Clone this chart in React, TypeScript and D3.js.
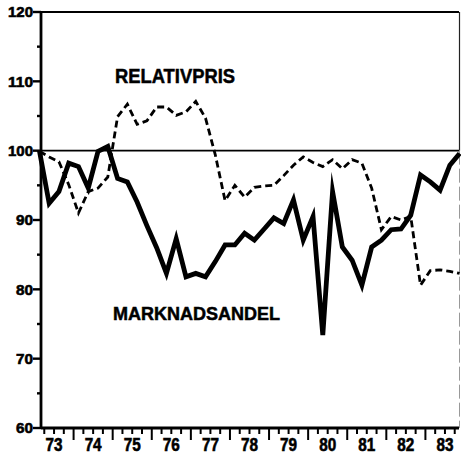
import React, { useEffect, useRef } from "react";
import * as d3 from "d3";

// quarterly series, 1973 Q1 .. 1983 Q4
const marknadsandel = [
  100, 92.4, 94.1, 98.2, 97.7, 94.6, 99.9, 100.6,
  96.0, 95.5, 92.6, 89.2, 86.0, 82.3, 87.3, 81.8,
  82.3, 81.8, 84.0, 86.4, 86.4, 88.1, 87.1, 88.7,
  90.3, 89.5, 92.9, 87.1, 90.5, 73.4, 94.1, 86.1,
  84.2, 80.6, 86.1, 87.1, 88.6, 88.7, 90.7, 96.5,
  95.5, 94.3, 97.9, 99.6,
];

const relativpris = [
  99.9, 99.1, 98.4, 95.1, 91.0, 94.1, 94.6, 96.2,
  104.9, 106.7, 103.8, 104.3, 106.3, 106.3, 105.1, 105.6,
  107.1, 104.7, 99.4, 92.8, 95.0, 93.3, 94.7, 94.9,
  95.0, 96.4, 97.9, 99.1, 98.3, 97.7, 98.7, 97.4,
  98.7, 98.2, 94.6, 88.6, 90.5, 90.0, 90.5, 80.6,
  82.7, 82.8, 82.6, 82.3,
];

const years = [73, 74, 75, 76, 77, 78, 79, 80, 81, 82, 83];
const yTicks = [60, 70, 80, 90, 100, 110, 120];
const yMinorTicks = [65, 75, 85, 95, 105, 115];

const W = 461;
const H = 460;

const Chart = () => {
  const svgRef = useRef<SVGSVGElement>(null);

  useEffect(() => {
    const svg = d3.select(svgRef.current);
    svg.selectAll("*").remove();

    const left = 41;
    const right = 459;
    const top = 12;
    const bottom = 428;

    const x = d3.scaleLinear().domain([1973, 1984]).range([34.5, 464.5]);
    const y = d3.scaleLinear().domain([60, 120]).range([bottom, top]);

    const t = (i: number) => 1973 + i * 0.25 + 0.125;
    const font = "'Liberation Sans', Arial, sans-serif";

    // frame: top and right edges
    svg.append("line")
      .attr("x1", left).attr("x2", right)
      .attr("y1", top).attr("y2", top)
      .attr("stroke", "#000").attr("stroke-width", 2);
    svg.append("line")
      .attr("x1", right + 0.5).attr("x2", right + 0.5)
      .attr("y1", top).attr("y2", y(100))
      .attr("stroke", "#222").attr("stroke-width", 1.2);
    svg.append("line")
      .attr("x1", right + 0.5).attr("x2", right + 0.5)
      .attr("y1", y(100)).attr("y2", bottom)
      .attr("stroke", "#999").attr("stroke-width", 1)
      .attr("stroke-dasharray", "14,4");

    // reference line at 100
    svg.append("line")
      .attr("x1", left).attr("x2", right)
      .attr("y1", y(100)).attr("y2", y(100))
      .attr("stroke", "#000").attr("stroke-width", 1.8);

    // y axis
    const gy = svg.append("g");
    gy.append("line")
      .attr("x1", left).attr("x2", left)
      .attr("y1", top).attr("y2", bottom)
      .attr("stroke", "#000").attr("stroke-width", 2.8);
    gy.selectAll("line.major").data(yTicks).join("line")
      .attr("class", "major")
      .attr("x1", left - 8).attr("x2", left)
      .attr("y1", (d) => y(d)).attr("y2", (d) => y(d))
      .attr("stroke", "#000").attr("stroke-width", 2.4);
    gy.selectAll("line.minor").data(yMinorTicks).join("line")
      .attr("class", "minor")
      .attr("x1", left - 4).attr("x2", left)
      .attr("y1", (d) => y(d)).attr("y2", (d) => y(d))
      .attr("stroke", "#000").attr("stroke-width", 2.4);
    gy.selectAll("text").data(yTicks).join("text")
      .attr("x", 33)
      .attr("y", (d) => y(d))
      .attr("dy", "0.36em")
      .attr("text-anchor", "end")
      .attr("font-family", font)
      .attr("font-weight", "bold")
      .attr("font-size", 15)
      .attr("stroke", "#000")
      .attr("stroke-width", 0.6)
      .attr("textLength", (d) => (d >= 100 ? 25 : 17))
      .attr("lengthAdjust", "spacingAndGlyphs")
      .text((d) => d);

    // x axis
    const gx = svg.append("g");
    gx.append("line")
      .attr("x1", left).attr("x2", right)
      .attr("y1", bottom).attr("y2", bottom)
      .attr("stroke", "#000").attr("stroke-width", 2.8);
    const quarters = d3.range(1973, 1984.01, 0.25)
      .filter((q) => x(q) >= left - 0.5 && x(q) <= right + 0.5 && q % 1 !== 0);
    gx.selectAll("line.q").data(quarters).join("line")
      .attr("class", "q")
      .attr("x1", (d) => x(d)).attr("x2", (d) => x(d))
      .attr("y1", bottom).attr("y2", bottom + 6)
      .attr("stroke", "#000").attr("stroke-width", 2);
    gx.selectAll("line.yr").data(d3.range(1974, 1984)).join("line")
      .attr("class", "yr")
      .attr("x1", (d) => x(d)).attr("x2", (d) => x(d))
      .attr("y1", bottom).attr("y2", bottom + 12)
      .attr("stroke", "#000").attr("stroke-width", 2);
    gx.selectAll("text").data(years).join("text")
      .attr("x", (d) => x(1900 + d + 0.5))
      .attr("y", 451)
      .attr("text-anchor", "middle")
      .attr("font-family", font)
      .attr("font-weight", "bold")
      .attr("font-size", 18)
      .attr("stroke", "#000")
      .attr("stroke-width", 0.6)
      .attr("textLength", 17)
      .attr("lengthAdjust", "spacingAndGlyphs")
      .text((d) => d);

    const line = d3.line<number>()
      .x((d, i) => x(t(i)))
      .y((d) => y(d));

    svg.append("path")
      .datum(relativpris)
      .attr("fill", "none")
      .attr("stroke", "#000")
      .attr("stroke-width", 2.8)
      .attr("stroke-dasharray", "7,4")
      .attr("d", line);

    svg.append("path")
      .datum(marknadsandel)
      .attr("fill", "none")
      .attr("stroke", "#000")
      .attr("stroke-width", 4.8)
      .attr("stroke-linejoin", "miter")
      .attr("stroke-miterlimit", 10)
      .attr("d", line);

    // series labels
    svg.append("text")
      .attr("x", 115).attr("y", 83)
      .attr("font-family", font)
      .attr("font-weight", "bold")
      .attr("font-size", 20)
      .attr("stroke", "#000")
      .attr("stroke-width", 0.5)
      .attr("textLength", 120)
      .attr("lengthAdjust", "spacingAndGlyphs")
      .text("RELATIVPRIS");

    svg.append("text")
      .attr("x", 113).attr("y", 320)
      .attr("font-family", font)
      .attr("font-weight", "bold")
      .attr("font-size", 18)
      .attr("stroke", "#000")
      .attr("stroke-width", 0.5)
      .attr("textLength", 167)
      .attr("lengthAdjust", "spacingAndGlyphs")
      .text("MARKNADSANDEL");
  }, []);

  return (
    <svg
      ref={svgRef}
      width={W}
      height={H}
      style={{ position: "absolute", left: 0, top: 0, background: "#fff" }}
    />
  );
};

export default function App() {
  return <Chart />;
}
